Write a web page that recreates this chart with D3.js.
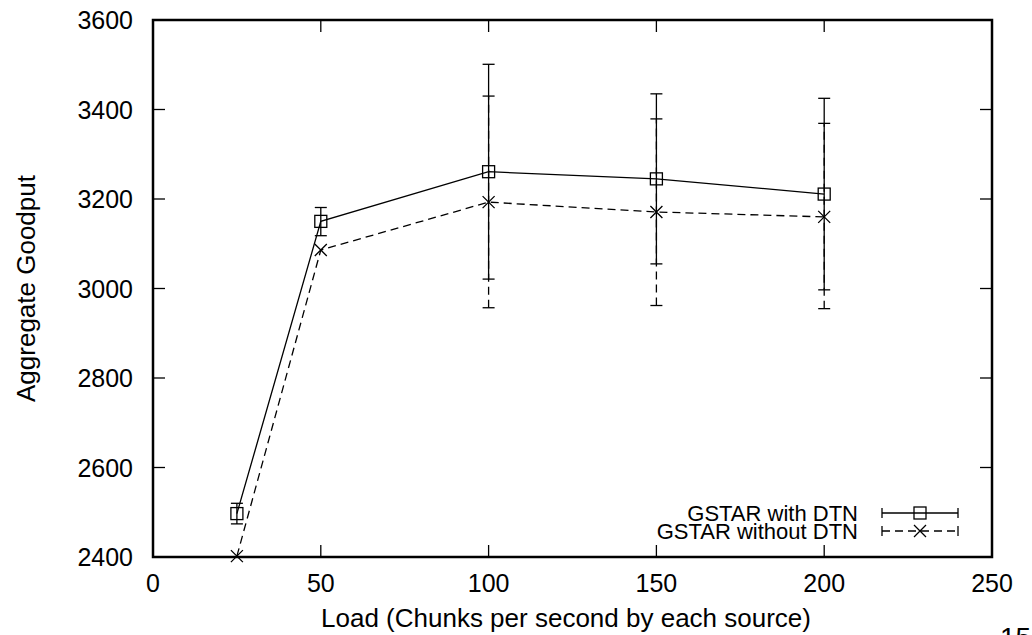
<!DOCTYPE html>
<head>
  <meta charset="utf-8">
  <style>
  body { margin: 0; background: #fff; }
  text { font-family: 'Liberation Sans', Arial, Helvetica, sans-serif; fill: #000; }
  </style>
</head>
<body>
  <svg id="chart"></svg>
  <script src="https://d3js.org/d3.v7.min.js"></script>
  <script>

  var width = 1032,
      height = 635;

  // Data
  var loads = [25, 50, 100, 150, 200];
  var withDtn = [2497, 3150, 3261, 3245, 3211];
  var withDtnLow = [2474, 3118, 3021, 3055, 2997];
  var withDtnHigh = [2520, 3181, 3501, 3435, 3425];
  var withoutDtn = [2402, 3086, 3193, 3171, 3160];
  var withoutDtnLow = [null, null, 2957, 2962, 2955];
  var withoutDtnHigh = [null, null, 3430, 3379, 3369];
  var xTicks = [0, 50, 100, 150, 200, 250];
  var yTicks = [2400, 2600, 2800, 3000, 3200, 3400, 3600];
  var seriesNames = ['GSTAR with DTN', 'GSTAR without DTN'];

  var pLeft = 153, pRight = 992, pTop = 20, pBottom = 557;

  var x = d3.scaleLinear().domain([0, 250]).range([pLeft, pRight]);
  var y = d3.scaleLinear().domain([2400, 3600]).range([pBottom, pTop]);

  var svg = d3.select('#chart')
    .attr('width', width)
    .attr('height', height);

  var series = [
    { name: seriesNames[0], v: withDtn, lo: withDtnLow, hi: withDtnHigh, dash: null, marker: 'square' },
    { name: seriesNames[1], v: withoutDtn, lo: withoutDtnLow, hi: withoutDtnHigh, dash: '8,5', marker: 'cross' }
  ];

  svg.append('clipPath').attr('id', 'clip')
    .append('rect').attr('x', pLeft).attr('y', pTop)
    .attr('width', pRight - pLeft).attr('height', pBottom - pTop);

  var plot = svg.append('g');

  function drawMarker(g, type, cx, cy) {
    if (type === 'square') {
      g.append('rect')
        .attr('x', cx - 6).attr('y', cy - 6)
        .attr('width', 12).attr('height', 12)
        .attr('fill', 'none').attr('stroke', '#000').attr('stroke-width', 1.3);
    } else {
      g.append('path')
        .attr('d', 'M' + (cx - 6) + ',' + (cy - 6) + 'L' + (cx + 6) + ',' + (cy + 6) +
                   'M' + (cx - 6) + ',' + (cy + 6) + 'L' + (cx + 6) + ',' + (cy - 6))
        .attr('stroke', '#000').attr('stroke-width', 1.3);
    }
  }

  var line = d3.line()
    .x(function(d) { return x(d[0]); })
    .y(function(d) { return y(d[1]); });

  series.forEach(function(s) {
    var g = plot.append('g').attr('clip-path', 'url(#clip)');
    var pts = loads.map(function(l, i) { return [l, s.v[i]]; });

    // error bars
    loads.forEach(function(l, i) {
      if (s.lo[i] == null) return;
      var px = x(l);
      g.append('line')
        .attr('x1', px).attr('x2', px)
        .attr('y1', y(s.lo[i])).attr('y2', y(s.hi[i]))
        .attr('stroke', '#000').attr('stroke-width', 1.3)
        .attr('stroke-dasharray', s.dash);
      [s.lo[i], s.hi[i]].forEach(function(v) {
        g.append('line')
          .attr('x1', px - 6).attr('x2', px + 6)
          .attr('y1', y(v)).attr('y2', y(v))
          .attr('stroke', '#000').attr('stroke-width', 1.3);
      });
    });

    g.append('path')
      .datum(pts)
      .attr('d', line)
      .attr('fill', 'none')
      .attr('stroke', '#000')
      .attr('stroke-width', 1.3)
      .attr('stroke-dasharray', s.dash);

    pts.forEach(function(p) { drawMarker(plot, s.marker, x(p[0]), y(p[1])); });
  });

  // frame
  svg.append('rect')
    .attr('x', pLeft).attr('y', pTop)
    .attr('width', pRight - pLeft).attr('height', pBottom - pTop)
    .attr('fill', 'none').attr('stroke', '#000').attr('stroke-width', 2.5);

  // ticks (inward, mirrored)
  var tickLen = 12;
  xTicks.forEach(function(t) {
    svg.append('line').attr('x1', x(t)).attr('x2', x(t))
      .attr('y1', pBottom).attr('y2', pBottom - tickLen).attr('stroke', '#000').attr('stroke-width', 1.3);
    svg.append('line').attr('x1', x(t)).attr('x2', x(t))
      .attr('y1', pTop).attr('y2', pTop + tickLen).attr('stroke', '#000').attr('stroke-width', 1.3);
    svg.append('text')
      .attr('x', x(t)).attr('y', pBottom + 35)
      .attr('text-anchor', 'middle')
      .style('font-size', '25px')
      .text(t);
  });
  yTicks.forEach(function(t) {
    svg.append('line').attr('x1', pLeft).attr('x2', pLeft + tickLen)
      .attr('y1', y(t)).attr('y2', y(t)).attr('stroke', '#000').attr('stroke-width', 1.3);
    svg.append('line').attr('x1', pRight).attr('x2', pRight - tickLen)
      .attr('y1', y(t)).attr('y2', y(t)).attr('stroke', '#000').attr('stroke-width', 1.3);
    svg.append('text')
      .attr('x', pLeft - 20).attr('y', y(t) + 9)
      .attr('text-anchor', 'end')
      .style('font-size', '25px')
      .text(t);
  });

  // axis titles
  svg.append('text')
    .attr('x', 566).attr('y', 627)
    .attr('text-anchor', 'middle')
    .style('font-size', '26px')
    .text('Load (Chunks per second by each source)');

  svg.append('text')
    .attr('transform', 'translate(35,' + ((pTop + pBottom) / 2) + ') rotate(-90)')
    .attr('text-anchor', 'middle')
    .style('font-size', '26px')
    .text('Aggregate Goodput');

  // legend
  series.forEach(function(s, i) {
    var ly = 513 + i * 18;
    svg.append('text')
      .attr('x', 858).attr('y', ly + 8)
      .attr('text-anchor', 'end')
      .style('font-size', '22px')
      .text(s.name);
    svg.append('line')
      .attr('x1', 882).attr('x2', 958).attr('y1', ly).attr('y2', ly)
      .attr('stroke', '#000').attr('stroke-width', 1.3)
      .attr('stroke-dasharray', s.dash);
    [882, 958].forEach(function(cx) {
      svg.append('line')
        .attr('x1', cx).attr('x2', cx).attr('y1', ly - 5).attr('y2', ly + 5)
        .attr('stroke', '#000').attr('stroke-width', 1.3);
    });
    drawMarker(svg, s.marker, 920, ly);
  });

  // page number cut at the bottom edge
  svg.append('text')
    .attr('x', 1000).attr('y', 647)
    .style('font-size', '28px')
    .text('15');

  </script>
</body>
